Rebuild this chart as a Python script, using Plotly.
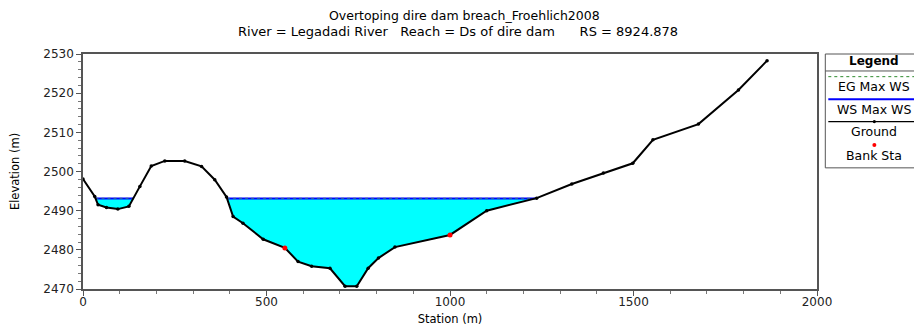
import plotly.graph_objects as go
import numpy as np

# ---- data ----
station = [0, 32, 41, 64, 95, 125, 155, 186, 223, 277, 323, 359, 391, 409, 436, 491,
           550, 586, 623, 673, 714, 746, 777, 805, 850, 1000, 1100, 1236, 1332, 1418,
           1498, 1553, 1677, 1786, 1864]
elevation = [2498.1, 2493.6, 2491.5, 2490.8, 2490.4, 2491.1, 2496.2, 2501.4, 2502.7, 2502.7,
             2501.3, 2497.9, 2493.5, 2488.5, 2486.8, 2482.7, 2480.5, 2477.0, 2475.8, 2475.3,
             2470.7, 2470.7, 2475.3, 2477.9, 2480.7, 2483.8, 2490.0, 2493.2, 2496.8, 2499.6,
             2502.1, 2508.1, 2512.1, 2520.8, 2528.3]
bank_station = [550, 1000]
bank_elev = [2480.5, 2483.8]
ws_max = 2493.1
eg_max = 2493.15
x_ticks = [0, 500, 1000, 1500, 2000]
y_ticks = [2470, 2480, 2490, 2500, 2510, 2520, 2530]

title1 = "Overtoping dire dam breach_Froehlich2008"
title2 = "River = Legadadi River   Reach = Ds of dire dam      RS = 8924.878"
legend_labels = ["EG Max WS", "WS Max WS", "Ground", "Bank Sta"]

# ---- wet regions (derived from ground and WS) ----
xs = np.array(station, float)
ys = np.array(elevation, float)
polys = []
cur = None
for i in range(len(xs)):
    wet = ys[i] < ws_max
    if wet and cur is None:
        if i > 0:
            t = (ys[i-1] - ws_max) / (ys[i-1] - ys[i])
            xc = xs[i-1] + t * (xs[i] - xs[i-1])
        else:
            xc = xs[i]
        cur = [(xc, ws_max)]
    if wet:
        cur.append((xs[i], ys[i]))
    if (not wet) and cur is not None:
        t = (ws_max - ys[i-1]) / (ys[i] - ys[i-1])
        xc = xs[i-1] + t * (xs[i] - xs[i-1])
        cur.append((xc, ws_max))
        polys.append(cur)
        cur = None
if cur is not None:
    cur.append((xs[-1], ws_max))
    polys.append(cur)

fig = go.Figure()
ws_x, ws_y, eg_x, eg_y = [], [], [], []
for p in polys:
    pxs = [q[0] for q in p] + [p[0][0]]
    pys = [q[1] for q in p] + [p[0][1]]
    fig.add_trace(go.Scatter(x=pxs, y=pys, mode="lines", fill="toself",
                             fillcolor="#00FFFF", line=dict(width=0),
                             hoverinfo="skip", showlegend=False))
    ws_x += [p[0][0], p[-1][0], None]
    ws_y += [ws_max, ws_max, None]
    eg_x += [p[0][0], p[-1][0], None]
    eg_y += [eg_max, eg_max, None]

fig.add_trace(go.Scatter(x=ws_x, y=ws_y, mode="lines",
                         line=dict(color="#0000FF", width=2), showlegend=False))
fig.add_trace(go.Scatter(x=eg_x, y=eg_y, mode="lines",
                         line=dict(color="#2E6B8B", width=1, dash="dot"), showlegend=False))
fig.add_trace(go.Scatter(x=station, y=elevation, mode="lines+markers",
                         line=dict(color="black", width=2),
                         marker=dict(color="black", size=3.5), showlegend=False))
fig.add_trace(go.Scatter(x=bank_station, y=bank_elev, mode="markers",
                         marker=dict(color="#FF0000", size=5), showlegend=False))

# ---- layout ----
W, H = 914, 335
L, R, T, B = 83.3, 816.7, 54, 289.3


def px(x):
    return (x - L) / (R - L)


def py(y):
    return (B - y) / (B - T)


font = "DejaVu Sans, Liberation Sans, Arial"
shapes = []
ann = []


def text(t, x, y, size=12, xanchor="center", bold=False):
    ann.append(dict(text=("<b>%s</b>" % t) if bold else t, x=px(x), y=py(y),
                    xref="paper", yref="paper", xanchor=xanchor, yanchor="middle",
                    showarrow=False, font=dict(size=size, color="black", family=font)))


# title
text(title1, 464, 15, size=12.5)
text(title2.replace(" ", "&nbsp;"), 458, 31.5, size=13)

# legend box
lx0, lx1, ly0, ly1 = 825, 930, 54, 168
shapes.append(dict(type="rect", xref="paper", yref="paper", x0=px(lx0), x1=px(lx1),
                   y0=py(ly0), y1=py(ly1), line=dict(color="#555", width=1), layer="above"))
shapes.append(dict(type="line", xref="paper", yref="paper", x0=px(lx0), x1=px(lx1),
                   y0=py(71), y1=py(71), line=dict(color="#555", width=1)))
cx = 874
text("Legend", cx, 61.5, size=12, bold=True)
shapes.append(dict(type="line", xref="paper", yref="paper", x0=px(lx0 + 3), x1=px(lx1),
                   y0=py(76.7), y1=py(76.7), line=dict(color="#2E8B2E", width=1, dash="dot")))
text(legend_labels[0], cx, 86.5, size=12.5)
shapes.append(dict(type="line", xref="paper", yref="paper", x0=px(lx0 + 3), x1=px(lx1),
                   y0=py(99.3), y1=py(99.3), line=dict(color="#0000FF", width=2)))
text(legend_labels[1], cx, 109.5, size=12.5)
shapes.append(dict(type="line", xref="paper", yref="paper", x0=px(lx0 + 3), x1=px(lx1),
                   y0=py(121.7), y1=py(121.7), line=dict(color="black", width=1.2)))
shapes.append(dict(type="circle", xref="paper", yref="paper", x0=px(cx - 1.6), x1=px(cx + 1.6),
                   y0=py(120.1), y1=py(123.3), fillcolor="black", line=dict(width=0)))
text(legend_labels[2], cx, 132, size=12.5)
shapes.append(dict(type="circle", xref="paper", yref="paper", x0=px(cx - 2), x1=px(cx + 2),
                   y0=py(143), y1=py(147), fillcolor="#FF0000", line=dict(width=0)))
text(legend_labels[3], cx, 155.5, size=12.5)

fig.update_layout(
    width=W, height=H,
    margin=dict(l=L, r=W - R, t=T, b=H - B),
    paper_bgcolor="white", plot_bgcolor="white",
    font=dict(family=font, size=11, color="black"),
    shapes=shapes, annotations=ann,
)
fig.update_xaxes(range=[0, 2000], tickvals=x_ticks, ticks="outside", ticklen=5,
                 tickcolor="#555", showgrid=False, zeroline=False, automargin=False,
                 showline=True, linecolor="#555", linewidth=1.5, mirror=True,
                 tickfont=dict(size=12, color="#222"), ticklabelstandoff=-4,
                 minor=dict(dtick=100, ticks="outside", ticklen=3, tickcolor="#777", showgrid=False),
                 title=dict(text="Station (m)", font=dict(size=11.5), standoff=7))
fig.update_yaxes(range=[2470, 2530], tickvals=y_ticks, ticks="outside", ticklen=5,
                 tickcolor="#555", showgrid=False, zeroline=False, automargin=False,
                 showline=True, linecolor="#555", linewidth=1.5, mirror=True,
                 tickfont=dict(size=12, color="#222"),
                 minor=dict(dtick=2, ticks="outside", ticklen=3, tickcolor="#777", showgrid=False),
                 title=dict(text="Elevation (m)", font=dict(size=11.5), standoff=21))

fig.write_html("out.html")
